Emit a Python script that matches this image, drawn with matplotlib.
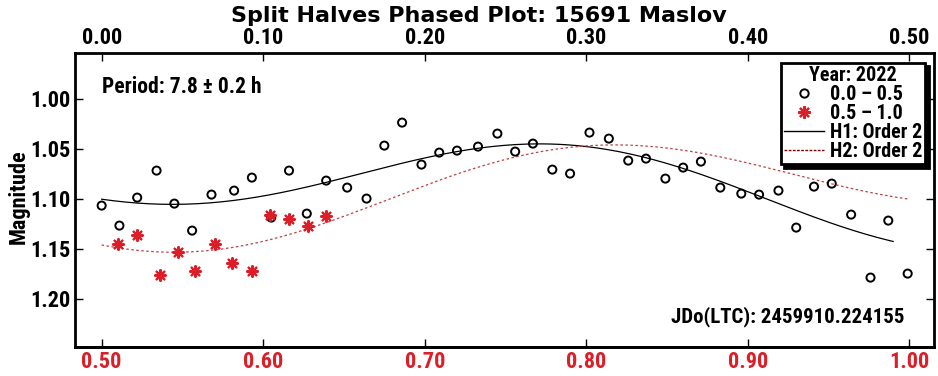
import numpy as np
import matplotlib.pyplot as plt
from matplotlib.lines import Line2D
from matplotlib import font_manager as fm

# -----------------------------
# DATA
# -----------------------------
# first half: phase 0.0 - 0.5 (black circles, top axis)
phase_first = [0.000, 0.011, 0.022, 0.034, 0.045, 0.056, 0.068, 0.082, 0.093,
               0.105, 0.116, 0.127, 0.139, 0.152, 0.164, 0.175, 0.186, 0.198,
               0.209, 0.220, 0.233, 0.245, 0.256, 0.267, 0.279, 0.290, 0.302,
               0.314, 0.326, 0.337, 0.349, 0.360, 0.371, 0.383, 0.396, 0.407,
               0.419, 0.430, 0.441, 0.452, 0.464, 0.476, 0.487, 0.499]
mag_first = [1.107, 1.127, 1.099, 1.072, 1.105, 1.132, 1.096, 1.092, 1.079,
             1.119, 1.072, 1.115, 1.082, 1.089, 1.100, 1.047, 1.024, 1.066,
             1.054, 1.052, 1.048, 1.035, 1.053, 1.045, 1.071, 1.075, 1.034,
             1.040, 1.062, 1.060, 1.080, 1.069, 1.063, 1.089, 1.095, 1.096,
             1.092, 1.129, 1.088, 1.085, 1.116, 1.179, 1.122, 1.175]

# second half: phase 0.5 - 1.0 (red asterisks, bottom axis)
phase_second = [0.510, 0.522, 0.536, 0.547, 0.558, 0.570, 0.581, 0.593,
                0.604, 0.616, 0.628, 0.639]
mag_second = [1.145, 1.136, 1.176, 1.153, 1.172, 1.145, 1.164, 1.172,
              1.116, 1.120, 1.127, 1.117]

top_ticks = [0.00, 0.10, 0.20, 0.30, 0.40, 0.50]
bottom_ticks = [0.50, 0.60, 0.70, 0.80, 0.90, 1.00]
mag_ticks = [1.00, 1.05, 1.10, 1.15, 1.20]

title = "Split Halves Phased Plot: 15691 Maslov"
period_text = "Period: 7.8 \u00b1 0.2 h"
jd_text = "JDo(LTC): 2459910.224155"
fourier_order = 2

# -----------------------------
# FOURIER FIT (order 2, full period)
# -----------------------------
ph_all = np.concatenate([phase_first, phase_second])
mg_all = np.concatenate([mag_first, mag_second])


def design(ph):
    cols = [np.ones_like(ph)]
    for k in range(1, fourier_order + 1):
        cols.append(np.cos(2 * np.pi * k * ph))
        cols.append(np.sin(2 * np.pi * k * ph))
    return np.column_stack(cols)


coef, *_ = np.linalg.lstsq(design(ph_all), mg_all, rcond=None)
x_h1 = np.linspace(0.0, 0.49, 200)
x_h2 = np.linspace(0.0, 0.50, 200)
y_h1 = design(x_h1) @ coef
y_h2 = design(x_h2 + 0.5) @ coef


# -----------------------------
# FONT: want something narrow (Arial Narrow look)
# -----------------------------
def pick_narrow():
    for fam in ["Liberation Sans Narrow", "Roboto Condensed", "Open Sans Condensed"]:
        try:
            fm.findfont(fm.FontProperties(family=fam, weight="bold"),
                        fallback_to_default=False)
            return {"family": fam, "stretch": "normal", "scale": 1.0}
        except ValueError:
            pass
    path = fm.findfont(fm.FontProperties(family="DejaVu Sans", stretch="condensed",
                                         weight="bold"))
    if "Condensed" in path:
        return {"family": "DejaVu Sans", "stretch": "condensed", "scale": 0.95}
    return {"family": "Liberation Sans", "stretch": "normal", "scale": 0.9}


nf = pick_narrow()


def nfont(size):
    return {"family": nf["family"], "stretch": nf["stretch"], "weight": "bold",
            "size": size * nf["scale"]}


red = "#dc1e28"

fig = plt.figure(figsize=(9.38, 3.76), dpi=100)
ax = fig.add_axes([75 / 938, 29 / 376, 859 / 938, 294 / 376])

ax.plot(x_h1, y_h1, color="black", lw=0.9, zorder=2)
ax.plot(x_h2, y_h2, color="#c04040", lw=0.9, ls=(0, (2, 2)), zorder=2)
ax.scatter(phase_first, mag_first, s=34, facecolors="none", edgecolors="black",
           linewidths=1.4, zorder=3)
ax.scatter(np.array(phase_second) - 0.5, mag_second, s=60, marker=(8, 2, 0),
           color=red, linewidths=1.6, zorder=3)

ax.set_xlim(-0.0165, 0.5153)
ax.set_ylim(1.2484, 0.9544)

ax.set_xticks(top_ticks)
ax.set_xticklabels([f"{t:.2f}" for t in top_ticks], fontdict=nfont(16))
ax.set_yticks(mag_ticks)
ax.set_yticklabels([f"{t:.2f}" for t in mag_ticks], fontdict=nfont(16))
ax.tick_params(direction="in", length=6, width=1.0, top=True, right=True,
               bottom=False, labeltop=True, labelbottom=False, labelright=False,
               pad=3)

sec = ax.secondary_xaxis("bottom", functions=(lambda x: x + 0.5, lambda x: x - 0.5))
sec.set_xticks(bottom_ticks)
sec.set_xticklabels([f"{t:.2f}" for t in bottom_ticks], fontdict=nfont(16))
sec.tick_params(direction="in", length=6, width=1.0, colors="black",
                labelcolor=red, pad=3)
sec.spines["bottom"].set_linewidth(2)

for sp in ax.spines.values():
    sp.set_linewidth(2)

fig.text(479 / 938, 1 - 16 / 376, title, ha="center", va="center",
         fontsize=16, fontweight="bold", family="DejaVu Sans")
fig.text(19 / 938, 1 - 197 / 376, "Magnitude", rotation=90, ha="center",
         va="center", fontdict=nfont(16))

ax.text(0.031, 0.884, period_text, transform=ax.transAxes, ha="left",
        va="center", fontdict=nfont(15.5))
ax.text(0.966, 0.102, jd_text, transform=ax.transAxes, ha="right",
        va="center", fontdict=nfont(15))

# legend
handles = [
    Line2D([], [], ls="none", marker="o", mfc="none", mec="black", mew=1.4, ms=6),
    Line2D([], [], ls="none", marker=(8, 2, 0), color=red, mew=1.6, ms=9),
    Line2D([], [], color="black", lw=1.0),
    Line2D([], [], color="#8b0000", lw=1.0, ls=(0, (2, 1))),
]
labels = ["0.0 \u2013 0.5", "0.5 \u2013 1.0", "H1: Order 2", "H2: Order 2"]
leg = ax.legend(handles, labels, title="Year: 2022", loc="upper right",
                bbox_to_anchor=(0.990, 0.966), borderaxespad=0,
                prop=nfont(14.5), title_fontproperties=nfont(14.5),
                handlelength=2.0, handletextpad=0.3, labelspacing=0.0,
                borderpad=0.15, fancybox=False, framealpha=1,
                shadow={"ox": 2.5, "oy": -2.5, "color": "black", "alpha": 1})
leg.get_frame().set_edgecolor("black")
leg.get_frame().set_linewidth(2)

fig.savefig("out.png", dpi=100)
